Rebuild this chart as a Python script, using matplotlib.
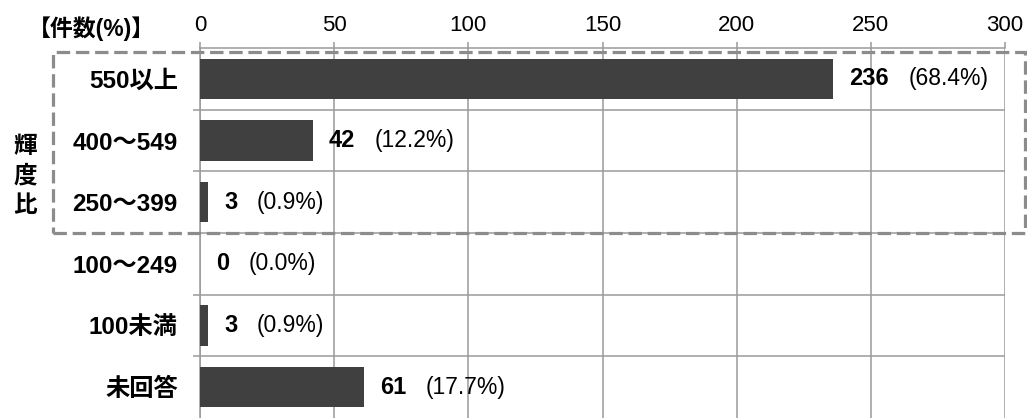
import matplotlib
matplotlib.use("Agg")
import matplotlib.pyplot as plt
from matplotlib.patches import Rectangle

plt.rcParams['font.family'] = ['Liberation Sans', 'Noto Sans CJK JP', 'DejaVu Sans']

CATEGORIES = ["550以上", "400～549", "250～399", "100～249", "100未満", "未回答"]
COUNTS = [236, 42, 3, 0, 3, 61]
PERCENTS = ["(68.4%)", "(12.2%)", "(0.9%)", "(0.0%)", "(0.9%)", "(17.7%)"]
X_TICKS = [0, 50, 100, 150, 200, 250, 300]
UNIT_LABEL = "【件数(%)】"
GROUP_LABEL = "輝\n度\n比"

BAR_COLOR = "#404040"
GRID_COLOR = "#9a9a9a"
BOX_COLOR = "#8c8c8c"

fig = plt.figure(figsize=(10.27, 4.18), dpi=100)
ax = fig.add_axes([200 / 1027, 0.0, 805 / 1027, 1 - 48 / 418])

ypos = list(range(len(CATEGORIES)))
ax.barh(ypos, COUNTS, height=0.65, color=BAR_COLOR, zorder=3)

ax.set_xlim(0, 300)
ax.set_ylim(len(CATEGORIES) - 0.5, -0.5)

# x axis on top
ax.xaxis.tick_top()
ax.set_xticks(X_TICKS)
ax.set_xticklabels([str(t) for t in X_TICKS], fontsize=16)
ax.tick_params(axis='x', direction='out', length=4.5, width=1.1, color=GRID_COLOR, pad=4)
ax.grid(axis='x', color=GRID_COLOR, linewidth=1.1, zorder=0)

# categories, gridlines at row boundaries
ax.set_yticks(ypos)
ax.set_yticklabels(CATEGORIES, fontsize=17.5, fontweight='bold')
ax.tick_params(axis='y', which='major', length=0, pad=16)
ax.set_yticks([i + 0.5 for i in ypos[:-1]], minor=True)
ax.tick_params(axis='y', which='minor', direction='out', length=5, width=1.1, color=GRID_COLOR)
ax.grid(axis='y', which='minor', color=GRID_COLOR, linewidth=1.1, zorder=0)

for s in ['bottom', 'right']:
    ax.spines[s].set_visible(False)
for s in ['top', 'left']:
    ax.spines[s].set_color(GRID_COLOR)
    ax.spines[s].set_linewidth(1.1)

# value labels: bold count, then percentage
for y, c, p in zip(ypos, COUNTS, PERCENTS):
    num = ax.annotate(str(c), xy=(c, y), xytext=(11.5, 0), textcoords='offset points',
                      va='center', ha='left', fontsize=17, fontweight='bold', zorder=4)
    ax.annotate(p, xy=(1, 0.5), xycoords=num, xytext=(14, 0), textcoords='offset points',
                va='center', ha='left', fontsize=16.5, zorder=4)

fig.text(28 / 1027, 1 - 29 / 418, UNIT_LABEL, fontsize=16.5, fontweight='bold',
         ha='left', va='center')
fig.text(25 / 1027, 1 - 176 / 418, GROUP_LABEL, fontsize=17, fontweight='bold',
         ha='center', va='center', linespacing=1.36)

# dashed grouping box
box = Rectangle((53 / 1027, 1 - 233 / 418), (1025 - 53) / 1027, (233 - 52) / 418,
                transform=fig.transFigure, fill=False, edgecolor=BOX_COLOR,
                linewidth=2.3, linestyle=(0, (4.2, 1.8)), clip_on=False, zorder=10)
fig.patches.append(box)

fig.savefig("out.png", dpi=100)
